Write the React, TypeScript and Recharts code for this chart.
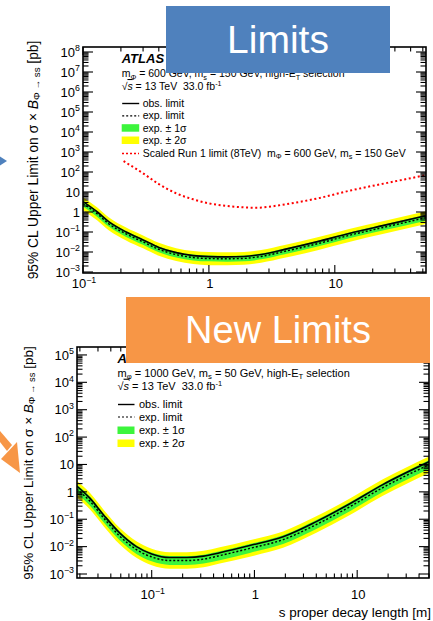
import React from 'react';
import { ComposedChart, Area, Line, XAxis, YAxis } from 'recharts';

const FONT = '"Liberation Sans", Arial, Helvetica, sans-serif';
const GREEN = '#3cf53c';
const YELLOW = '#ffff00';

// ---------- top panel (m_Phi = 600 GeV, m_s = 150 GeV) ----------
const topDecay = [0.1, 0.13, 0.16, 0.22, 0.3, 0.4, 0.55, 0.75, 1.0, 1.4, 1.9, 2.6, 4.0, 7.3, 13, 25, 53];
const topObs = [3.3, 1.0, 0.33, 0.1, 0.04, 0.017, 0.0093, 0.0066, 0.0059, 0.0057, 0.006, 0.0075, 0.0135, 0.033, 0.085, 0.22, 0.65];
const topExp = [2.6, 0.8, 0.26, 0.08, 0.032, 0.0136, 0.0074, 0.0053, 0.0047, 0.0046, 0.0048, 0.006, 0.0108, 0.026, 0.068, 0.176, 0.52];
const top1Lo = [1.86, 0.57, 0.186, 0.057, 0.023, 0.0097, 0.0053, 0.0038, 0.0034, 0.0033, 0.0034, 0.0043, 0.0077, 0.0186, 0.049, 0.126, 0.37];
const top1Hi = [3.64, 1.12, 0.364, 0.112, 0.045, 0.019, 0.0104, 0.0074, 0.0066, 0.0064, 0.0067, 0.0084, 0.0151, 0.036, 0.095, 0.246, 0.73];
const top2Lo = [1.24, 0.38, 0.124, 0.038, 0.0152, 0.0065, 0.0035, 0.0025, 0.0022, 0.0022, 0.0023, 0.0029, 0.0051, 0.0124, 0.032, 0.084, 0.25];
const top2Hi = [5.5, 1.68, 0.55, 0.168, 0.067, 0.0286, 0.0155, 0.0111, 0.0099, 0.0097, 0.0101, 0.0126, 0.0227, 0.055, 0.143, 0.37, 1.09];

const run1Decay = [0.21, 0.3, 0.4, 0.55, 0.75, 1.0, 1.4, 1.9, 2.4, 4.0, 7.3, 13.4, 25, 53];
const run1Limit = [350, 86, 25, 8.6, 4.3, 2.7, 2.0, 1.7, 1.64, 2.4, 4.8, 12, 27, 70];

const topXMajors = [0.1, 1, 10];
const topYMajors = [1e-3, 1e-2, 1e-1, 1, 10, 1e2, 1e3, 1e4, 1e5, 1e6, 1e7, 1e8];

// ---------- bottom panel (m_phi = 1000 GeV, m_s = 50 GeV) ----------
const botDecay = [0.01875, 0.025, 0.034, 0.049, 0.071, 0.1, 0.15, 0.22, 0.32, 0.46, 0.9, 1.9, 4.0, 8.4, 17.6, 50];
const botObs = [1.6, 0.59, 0.144, 0.031, 0.01, 0.0054, 0.004, 0.004, 0.0045, 0.006, 0.011, 0.023, 0.082, 0.36, 1.8, 12.5];
const botExp = [1.25, 0.46, 0.112, 0.024, 0.0078, 0.0042, 0.0031, 0.0031, 0.0035, 0.0047, 0.0086, 0.018, 0.064, 0.28, 1.4, 9.8];
const bot1Lo = [0.86, 0.32, 0.077, 0.0166, 0.0054, 0.0029, 0.00214, 0.00214, 0.0024, 0.0032, 0.0059, 0.0124, 0.044, 0.193, 0.97, 6.8];
const bot1Hi = [1.81, 0.67, 0.162, 0.035, 0.0113, 0.0061, 0.0045, 0.0045, 0.0051, 0.0068, 0.0125, 0.026, 0.093, 0.41, 2.03, 14.2];
const bot2Lo = [0.62, 0.23, 0.056, 0.012, 0.0039, 0.0021, 0.00155, 0.00155, 0.00175, 0.0024, 0.0043, 0.009, 0.032, 0.14, 0.7, 4.9];
const bot2Hi = [2.5, 0.92, 0.224, 0.048, 0.0156, 0.0084, 0.0062, 0.0062, 0.007, 0.0094, 0.0172, 0.036, 0.128, 0.56, 2.8, 19.6];

const botXMajors = [0.01, 0.1, 1, 10];
const botYMajors = [1e-3, 1e-2, 1e-1, 1, 10, 1e2, 1e3, 1e4, 1e5];

// ---------- helpers ----------
const minorSteps = [1, 2, 3, 4, 5, 6, 7, 8, 9];
function logTicks(majors: number[], lo: number, hi: number) {
  return majors
    .flatMap((m) => minorSteps.map((k) => m * k))
    .filter((v) => v >= lo * 0.9999 && v <= hi * 1.0001);
}
function isMajor(v: number) {
  const l = Math.log10(v);
  return Math.abs(l - Math.round(l)) < 1e-6;
}
function TickLabel({ v, x, y, anchor, size }: { v: number; x: number; y: number; anchor: string; size: number }) {
  const e = Math.round(Math.log10(v));
  if (e === 0 || e === 1) {
    return (
      <text x={x} y={y} textAnchor={anchor} fontSize={size} fontFamily={FONT} fill="#000">
        {e === 0 ? '1' : '10'}
      </text>
    );
  }
  return (
    <text x={x} y={y} textAnchor={anchor} fontSize={size} fontFamily={FONT} fill="#000">
      <tspan>10</tspan>
      <tspan dy={-5.5} fontSize={size * 0.68}>
        {e < 0 ? '\u2212' + -e : String(e)}
      </tspan>
    </text>
  );
}

// rich text: segments [text, kind] kind: 'n' normal, 'b' subscript, 'p' superscript, 'i' italic
type Seg = [string, string];
function Rich({ segs, size }: { segs: Seg[]; size: number }) {
  let level = 0;
  return (
    <>
      {segs.map(([t, k], i) => {
        const target = k === 'b' ? 2.5 : k === 'p' ? -4 : 0;
        const dy = target - level;
        level = target;
        return (
          <tspan
            key={i}
            dy={dy}
            fontSize={k === 'b' || k === 'p' ? size * 0.7 : size}
            fontStyle={k === 'i' || k === 'b' ? (k === 'i' ? 'italic' : undefined) : undefined}
          >
            {t}
          </tspan>
        );
      })}
    </>
  );
}

interface Geo {
  H: number;
  left: number;
  right: number;
  top: number;
  bottom: number;
  xLabelDy: number;
  xDomain: [number, number];
  yDomain: [number, number];
  xMajors: number[];
  yMajors: number[];
}

function makeXTick(g: Geo) {
  return (props: any) => {
    const { x, payload } = props;
    const v = payload.value;
    const major = isMajor(v);
    const len = major ? 8 : 4.5;
    return (
      <g key={'xt' + v}>
        <line x1={x} x2={x} y1={g.bottom} y2={g.bottom - len} stroke="#000" strokeWidth={1.1} />
        <line x1={x} x2={x} y1={g.top} y2={g.top + len} stroke="#000" strokeWidth={1.1} />
        {major && <TickLabel v={v} x={x + 1} y={g.bottom + g.xLabelDy} anchor="middle" size={13} />}
      </g>
    );
  };
}
function makeYTick(g: Geo) {
  return (props: any) => {
    const { y, payload } = props;
    const v = payload.value;
    const major = isMajor(v);
    const len = major ? 10 : 5.5;
    return (
      <g key={'yt' + v}>
        <line x1={g.left} x2={g.left + len} y1={y} y2={y} stroke="#000" strokeWidth={1.1} />
        <line x1={g.right} x2={g.right - len} y1={y} y2={y} stroke="#000" strokeWidth={1.1} />
        {major && <TickLabel v={v} x={g.left - 3} y={y + 4.7} anchor="end" size={13} />}
      </g>
    );
  };
}

function buildRows(xs: number[], obs: number[], exp: number[], l1: number[], h1: number[], l2: number[], h2: number[]) {
  return xs.map((x, i) => ({ x, obs: obs[i], exp: exp[i], s1: [l1[i], h1[i]], s2: [l2[i], h2[i]] }));
}

function Panel({ g, rows, extra }: { g: Geo; rows: any[]; extra?: any[] }) {
  const xTicks = logTicks(g.xMajors, g.xDomain[0], g.xDomain[1]);
  const yTicks = logTicks(g.yMajors, g.yDomain[0], g.yDomain[1]);
  return (
    <ComposedChart
      width={433}
      height={g.H}
      data={rows}
      margin={{ top: g.top, bottom: g.H - g.bottom - 1, left: g.left - 1, right: 433 - g.right }}
    >
      <XAxis
        dataKey="x"
        type="number"
        scale="log"
        domain={g.xDomain}
        allowDataOverflow
        ticks={xTicks}
        interval={0}
        tick={makeXTick(g)}
        tickLine={false}
        axisLine={false}
        height={1}
      />
      <YAxis
        type="number"
        scale="log"
        domain={g.yDomain}
        allowDataOverflow
        ticks={yTicks}
        interval={0}
        tick={makeYTick(g)}
        tickLine={false}
        axisLine={false}
        width={1}
      />
      <Area dataKey="s2" type="monotone" stroke="none" fill={YELLOW} fillOpacity={1} isAnimationActive={false} dot={false} activeDot={false} />
      <Area dataKey="s1" type="monotone" stroke="none" fill={GREEN} fillOpacity={1} isAnimationActive={false} dot={false} activeDot={false} />
      <Line dataKey="exp" type="monotone" stroke="#000" strokeWidth={1.4} strokeDasharray="2 2" isAnimationActive={false} dot={false} activeDot={false} />
      <Line dataKey="obs" type="monotone" stroke="#000" strokeWidth={1.6} isAnimationActive={false} dot={false} activeDot={false} />
      {extra && (
        <Line
          data={extra}
          dataKey="v"
          type="monotone"
          stroke="#ff0000"
          strokeWidth={2}
          strokeDasharray="2 2.6"
          isAnimationActive={false}
          dot={false}
          activeDot={false}
        />
      )}
    </ComposedChart>
  );
}

const topGeo: Geo = {
  H: 300,
  left: 83,
  right: 426,
  top: 47,
  bottom: 273,
  xLabelDy: 15,
  xDomain: [0.1, 53],
  yDomain: [Math.pow(10, -3.05), Math.pow(10, 8.25)],
  xMajors: topXMajors,
  yMajors: topYMajors,
};
const botGeo: Geo = {
  H: 321,
  left: 77,
  right: 429,
  top: 47,
  bottom: 278,
  xLabelDy: 21,
  xDomain: [0.01875, 50],
  yDomain: [Math.pow(10, -3.146), Math.pow(10, 5.29)],
  xMajors: botXMajors,
  yMajors: botYMajors,
};

function YTitle({ x, y, size }: { x: number; y: number; size: number }) {
  return (
    <text
      x={x}
      y={y}
      transform={`rotate(-90, ${x}, ${y})`}
      textAnchor="middle"
      fontSize={size}
      fontFamily={FONT}
      fill="#000"
    >
      <Rich
        size={size}
        segs={[
          ['95% CL Upper Limit on σ × ', 'n'],
          ['B', 'i'],
          ['\u03A6 \u2192 ss', 'b'],
          [' [pb]', 'n'],
        ]}
      />
    </text>
  );
}

function Legend({
  x,
  y0,
  size,
  mLabel,
  mPhi,
  mS,
  rows,
  swatchW,
  textDx,
}: {
  x: number;
  y0: number;
  size: number;
  mLabel: string;
  mPhi: string;
  mS: string;
  rows: number[];
  swatchW: number;
  textDx: number;
}) {
  const tx = x + textDx;
  return (
    <g fontFamily={FONT} fill="#000">
      <text x={x} y={y0 - 14} fontSize={13} fontWeight="bold" fontStyle="italic">
        ATLAS
      </text>
      <text x={x} y={y0} fontSize={size}>
        <Rich
          size={size}
          segs={[
            ['m', 'n'],
            [mLabel, 'b'],
            [` = ${mPhi} GeV, m`, 'n'],
            ['s', 'b'],
            [` = ${mS} GeV, high-E`, 'n'],
            ['T', 'b'],
            [' selection', 'n'],
          ]}
        />
      </text>
      <text x={x} y={y0 + 13} fontSize={size}>
        <tspan>{'\u221A'}</tspan>
        <tspan fontStyle="italic" textDecoration="overline">s</tspan>
        <tspan>{' = 13 TeV \u00A033.0 fb'}</tspan>
        <tspan dy={-4} fontSize={size * 0.68}>-1</tspan>
      </text>
      <line x1={x + 0.5} x2={x + swatchW} y1={rows[0] - 3.5} y2={rows[0] - 3.5} stroke="#000" strokeWidth={1.4} />
      <text x={tx} y={rows[0]} fontSize={size}>obs. limit</text>
      <line x1={x + 0.5} x2={x + swatchW} y1={rows[1] - 3.5} y2={rows[1] - 3.5} stroke="#000" strokeWidth={1.2} strokeDasharray="2 2" />
      <text x={tx} y={rows[1]} fontSize={size}>exp. limit</text>
      <rect x={x} y={rows[2] - 7.5} width={swatchW} height={7.5} fill={GREEN} />
      <text x={tx} y={rows[2]} fontSize={size}>exp. ± 1σ</text>
      <rect x={x} y={rows[3] - 7.5} width={swatchW} height={7.5} fill={YELLOW} />
      <text x={tx} y={rows[3]} fontSize={size}>exp. ± 2σ</text>
    </g>
  );
}

export default function App() {
  const topRows = buildRows(topDecay, topObs, topExp, top1Lo, top1Hi, top2Lo, top2Hi);
  const botRows = buildRows(botDecay, botObs, botExp, bot1Lo, bot1Hi, bot2Lo, bot2Hi);
  const run1Rows = run1Decay.map((x, i) => ({ x, v: run1Limit[i] }));

  return (
    <div
      style={{
        position: 'absolute',
        left: 0,
        top: 0,
        width: 433,
        height: 621,
        background: '#fff',
        overflow: 'hidden',
        fontFamily: FONT,
      }}
    >
      <div style={{ position: 'absolute', left: 0, top: 0 }}>
        <Panel g={topGeo} rows={topRows} extra={run1Rows} />
      </div>
      <div style={{ position: 'absolute', left: 0, top: 300 }}>
        <Panel g={botGeo} rows={botRows} />
      </div>
      <svg
        width={433}
        height={621}
        style={{ position: 'absolute', left: 0, top: 0, pointerEvents: 'none' }}
      >
        {/* frames */}
        <rect x={83} y={47} width={426 - 83} height={273 - 47} fill="none" stroke="#000" strokeWidth={1.6} />
        <rect x={77} y={347} width={429 - 77} height={578 - 347} fill="none" stroke="#000" strokeWidth={1.6} />

        {/* axis titles */}
        <YTitle x={37.5} y={160} size={13.8} />
        <YTitle x={32.5} y={463} size={13.5} />
        <text x={431} y={617} textAnchor="end" fontSize={13.5} fontFamily={FONT} fill="#000">
          s proper decay length [m]
        </text>

        {/* legends */}
        <Legend
          x={121.7}
          y0={77}
          size={10.5}
          mLabel={'\u03A6'}
          mPhi="600"
          mS="150"
          rows={[107, 119.3, 131.7, 144]}
          swatchW={17.5}
          textDx={21}
        />
        <g fontFamily={FONT}>
          <line x1={122} x2={139} y1={153.5} y2={153.5} stroke="#ff0000" strokeWidth={1.6} strokeDasharray="2 2" />
          <text x={142.7} y={156.7} fontSize={10.5} fill="#000">
            <Rich
              size={10.5}
              segs={[
                ['Scaled Run 1 limit (8TeV) \u00A0m', 'n'],
                ['\u03A6', 'b'],
                [' = 600 GeV, m', 'n'],
                ['s', 'b'],
                [' = 150 GeV', 'n'],
              ]}
            />
          </text>
        </g>
        <Legend
          x={117.5}
          y0={376.7}
          size={11}
          mLabel={'\u03C6'}
          mPhi="1000"
          mS="50"
          rows={[408, 420.5, 434, 447]}
          swatchW={17}
          textDx={21.5}
        />

        {/* overlay boxes */}
        <rect x={166} y={6} width={390 - 166} height={73 - 6} fill="#4f81bd" />
        <text x={278} y={53} textAnchor="middle" fontSize={39} fontFamily={FONT} fill="#fff">
          Limits
        </text>
        <rect x={126} y={297} width={430 - 126} height={363 - 297} fill="#f79646" />
        <text x={278} y={343} textAnchor="middle" fontSize={38} fontFamily={FONT} fill="#fff">
          New Limits
        </text>

        {/* arrows */}
        <polygon points="0,156.5 7,161 0,165.5" fill="#4f81bd" />
        <polygon points="0,431 0,442 7,451 12,445" fill="#f79646" />
        <polygon points="20,473 17,442 1,459" fill="#f79646" />
      </svg>
    </div>
  );
}
